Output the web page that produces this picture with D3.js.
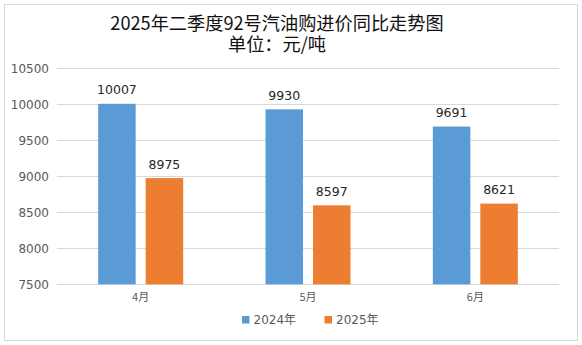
<!DOCTYPE html>
<html>
<head>
<meta charset="utf-8">
<script src="https://cdn.jsdelivr.net/npm/d3@7"></script>
<style>
  html, body { margin: 0; padding: 0; background: #fff; }
  svg { display: block; }
</style>
</head>
<body>
<div id="chart"></div>
<script>
// Chart data
const months = ["4月", "5月", "6月"];
const seriesNames = ["2024年", "2025年"];
const values2024 = [10007, 9930, 9691];
const values2025 = [8975, 8597, 8621];
const yTicks = [7500, 8000, 8500, 9000, 9500, 10000, 10500];
const titleLines = ["2025年二季度92号汽油购进价同比走势图", "单位：元/吨"];

const colors = ["#5B9BD5", "#ED7D31"];
const seriesValues = [values2024, values2025];

const W = 582, H = 345;
const plot = { left: 57, right: 559, top: 68.3, bottom: 284.3 };

const svg = d3.select("#chart").append("svg")
  .attr("width", W).attr("height", H);

// Chart area frame
svg.append("rect")
  .attr("x", 4.5).attr("y", 4.5)
  .attr("width", 573).attr("height", 336)
  .attr("fill", "#fff")
  .attr("stroke", "#d9d9d9").attr("stroke-width", 1);

// Title (two lines)
const cjk = "'Noto Sans CJK SC', 'Noto Sans', sans-serif";
svg.append("g").selectAll("text")
  .data(titleLines)
  .join("text")
  .attr("x", 277)
  .attr("y", (d, i) => 30 + i * 21)
  .attr("text-anchor", "middle")
  .attr("font-family", cjk)
  .attr("font-size", 18.2)
  .attr("fill", "#111")
  .text(d => d);

// Scales
const y = d3.scaleLinear()
  .domain([7500, 10500])
  .range([plot.bottom, plot.top]);

const x0 = d3.scaleBand()
  .domain(months)
  .range([plot.left, plot.right])
  .paddingInner(0).paddingOuter(0);

const x1 = d3.scaleBand()
  .domain(seriesNames)
  .range([0, x0.bandwidth()])
  .paddingInner(0.2105)
  .paddingOuter(0.8667);

// Gridlines
svg.append("g").selectAll("line")
  .data(yTicks)
  .join("line")
  .attr("x1", plot.left).attr("x2", plot.right)
  .attr("y1", d => Math.round(y(d)) + 0.5)
  .attr("y2", d => Math.round(y(d)) + 0.5)
  .attr("stroke", "#d9d9d9").attr("stroke-width", 1);

// Y axis labels
const yAxis = d3.axisLeft(y).tickValues(yTicks).tickSize(0).tickPadding(0).tickFormat(d3.format("d"));
const yg = svg.append("g")
  .attr("transform", `translate(${plot.left - 8},0)`)
  .call(yAxis);
yg.select(".domain").remove();
yg.selectAll("text")
  .attr("font-family", "'DejaVu Sans', sans-serif")
  .attr("font-size", 12)
  .attr("fill", "#595959");

// X axis labels
const xAxis = d3.axisBottom(x0).tickSize(0).tickPadding(0);
const xg = svg.append("g")
  .attr("transform", `translate(0,${plot.bottom + 9})`)
  .call(xAxis);
xg.select(".domain").remove();
xg.selectAll("text")
  .attr("font-family", cjk)
  .attr("font-size", 11)
  .attr("fill", "#595959");

// Bars
const rows = months.map((m, i) => ({
  month: m,
  items: seriesNames.map((s, j) => ({ series: s, value: seriesValues[j][i], color: colors[j] }))
}));

const groups = svg.append("g").selectAll("g")
  .data(rows)
  .join("g")
  .attr("transform", d => `translate(${x0(d.month)},0)`);

groups.selectAll("rect")
  .data(d => d.items)
  .join("rect")
  .attr("x", d => x1(d.series))
  .attr("y", d => y(d.value))
  .attr("width", x1.bandwidth())
  .attr("height", d => y(7500) - y(d.value))
  .attr("fill", d => d.color);

// Value labels
groups.selectAll("text.val")
  .data(d => d.items)
  .join("text")
  .attr("class", "val")
  .attr("x", d => x1(d.series) + x1.bandwidth() / 2)
  .attr("y", d => y(d.value) - 9.5)
  .attr("text-anchor", "middle")
  .attr("font-family", "'DejaVu Sans', sans-serif")
  .attr("font-size", 12.5)
  .attr("fill", "#262626")
  .text(d => d.value);

// Legend
const legendX = [242, 324.5];
const legend = svg.append("g").selectAll("g")
  .data(seriesNames)
  .join("g")
  .attr("transform", (d, i) => `translate(${legendX[i]},316)`);
legend.append("rect")
  .attr("width", 7.5).attr("height", 7.5)
  .attr("fill", (d, i) => colors[i]);
legend.append("text")
  .attr("x", 11.5).attr("y", 8.3)
  .attr("font-family", "'DejaVu Sans', 'Noto Sans CJK SC', sans-serif")
  .attr("font-size", 12)
  .attr("fill", "#595959")
  .text(d => d);
</script>
</body>
</html>
